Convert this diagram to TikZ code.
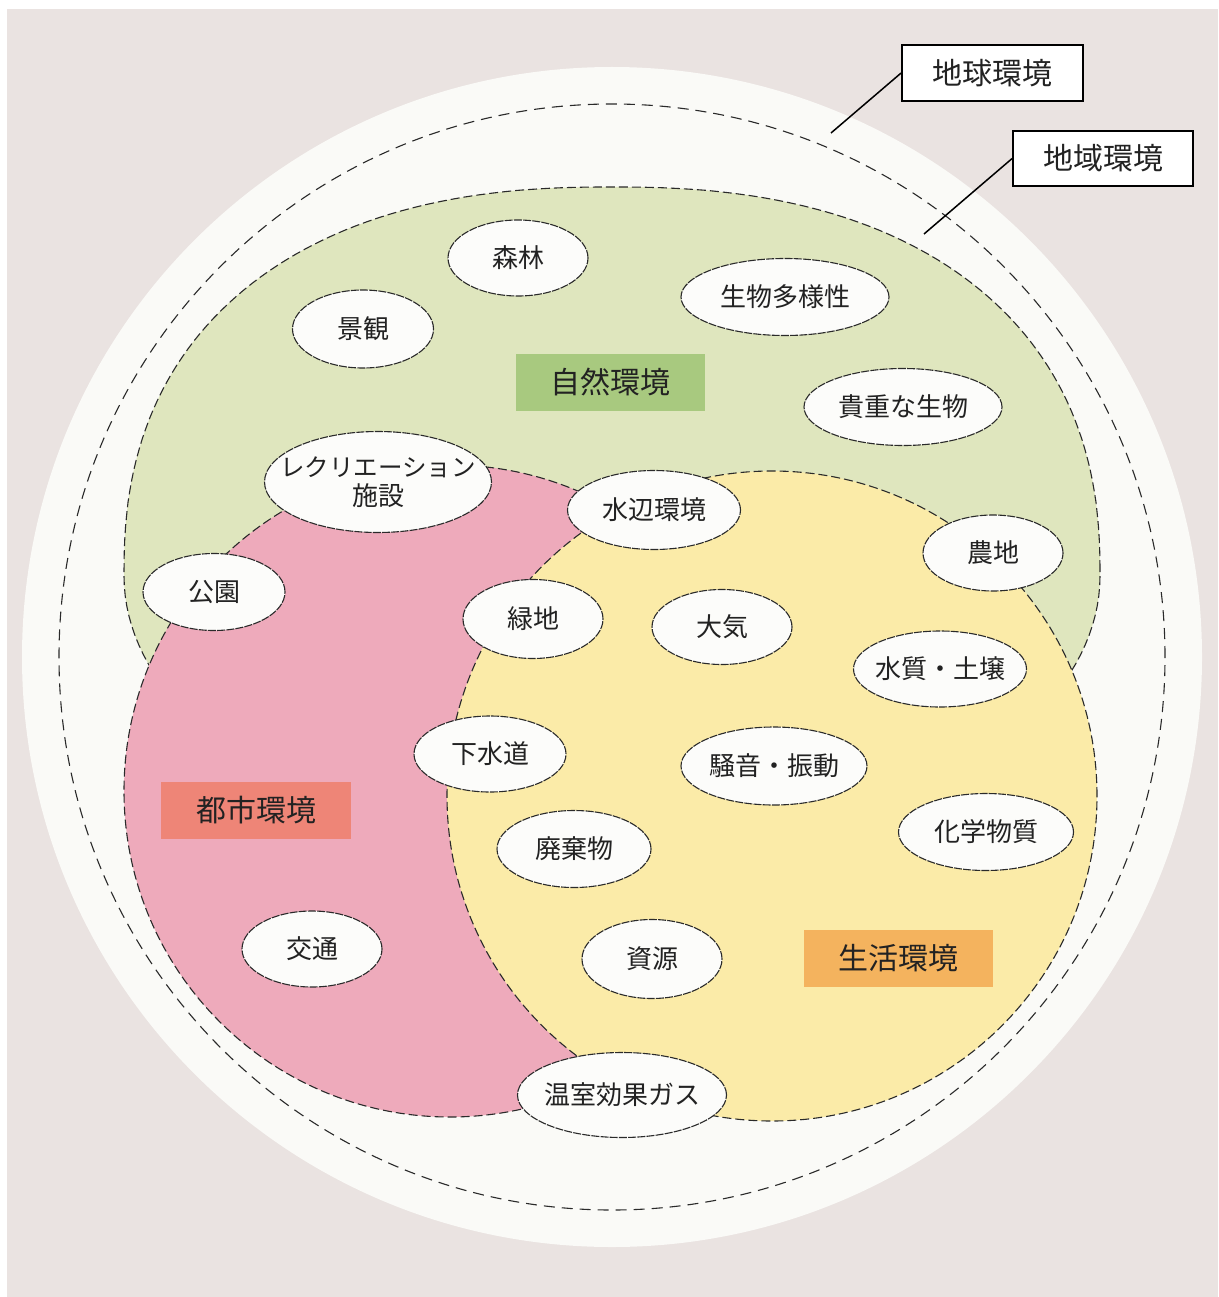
\documentclass[tikz,border=0pt]{standalone}
\usepackage{fontspec}
\setmainfont{Noto Sans CJK JP}
\definecolor{bgc}{HTML}{EAE3E1}
\definecolor{globec}{HTML}{FAFAF7}
\definecolor{natc}{HTML}{DFE6BE}
\definecolor{urbc}{HTML}{EEAABB}
\definecolor{lifec}{HTML}{FBEBA8}
\definecolor{natTag}{HTML}{A8C97F}
\definecolor{urbTag}{HTML}{EE8577}
\definecolor{lifeTag}{HTML}{F4B35E}
\definecolor{itemc}{HTML}{FCFCFA}
\definecolor{inkc}{HTML}{222222}
\definecolor{linec}{HTML}{2A2A2A}
\tikzset{
  zone/.style={draw=linec, line width=1.1pt, dash pattern=on 9pt off 4pt},
  ring/.style={draw=linec, line width=1.1pt, dash pattern=on 11pt off 7pt},
  itemline/.style={draw=linec, fill=itemc, line width=1.1pt, dash pattern=on 8pt off 1.2pt},
  itemtext/.style={inner sep=0pt, text=inkc, font=\fontsize{26}{29}\selectfont, align=center},
  tagbox/.style={inner sep=0pt, text=inkc, font=\fontsize{30}{34}\selectfont, minimum width=189pt, minimum height=57pt},
  callbox/.style={draw=black, line width=1.8pt, fill=white, inner sep=0pt, text=inkc, font=\fontsize{30}{34}\selectfont, minimum width=181pt, minimum height=56pt},
  leader/.style={draw=black, line width=1.5pt}
}
\newcommand{\blob}[5]{\draw[itemline] (#2) node[itemtext] (#1) {#5} ellipse [x radius=#3pt, y radius=#4pt];}
\begin{document}
\begin{tikzpicture}[x=1pt,y=-1pt]
\useasboundingbox (0,0) rectangle (1218,1297);
% background
\fill[white] (0,0) rectangle (1218,1297);
\fill[bgc] (7,9) rectangle (1218,1297);
% global environment
\fill[globec] (612,657) circle[radius=590pt];
\draw[ring] (612,657) circle[radius=553pt];
% natural environment
\draw[zone, fill=natc]
  plot[domain=0.5:179.5, samples=120, variable=\t]
    ({612+488*sign(cos(\t))*pow(abs(cos(\t)),0.85)}, {576-389*pow(abs(sin(\t)),0.85)})
  -- plot[domain=180:360, samples=90, variable=\t]
    ({612+488*cos(\t)}, {576-282*sin(\t)}) -- cycle;
% urban environment
\draw[zone, fill=urbc] (450,791) circle[radius=326pt];
% living environment
\draw[zone, fill=lifec] (772,796) circle[radius=325pt];
% tags
\node[tagbox, fill=natTag] (shizen) at (610.5,382) {自然環境};
\node[tagbox, fill=urbTag, minimum width=190pt] (toshi) at (256,810.5) {都市環境};
\node[tagbox, fill=lifeTag] (seikatsu) at (898.5,958.5) {生活環境};
% items
\blob{shinrin}{518,258}{70}{38}{森林}
\blob{keikan}{363,329}{70.5}{39}{景観}
\blob{tayosei}{785,297}{104}{38.5}{生物多様性}
\blob{kicho}{903,407}{99}{38.5}{貴重な生物}
\blob{rec}{378,482}{113.5}{50.5}{{\fontsize{24.5}{28}\selectfont レクリエーション}\\施設}
\blob{mizube}{654,510}{86.5}{39.5}{水辺環境}
\blob{nochi}{993,553}{70}{38}{農地}
\blob{koen}{214,592}{71}{38.5}{公園}
\blob{ryokuchi}{533,619}{70}{39.5}{緑地}
\blob{taiki}{722,627}{70}{37.5}{大気}
\blob{suishitsu}{940,669}{86.5}{38}{水質・土壌}
\blob{gesui}{490,754}{76}{38}{下水道}
\blob{soon}{774,766}{93}{39}{騒音・振動}
\blob{kagaku}{986,832}{87.5}{38.5}{化学物質}
\blob{haiki}{574,849}{77}{38.5}{廃棄物}
\blob{kotsu}{312,949}{70}{38}{交通}
\blob{shigen}{652,959}{70}{39.5}{資源}
\blob{onshitsu}{622,1095}{104.5}{42.5}{温室効果ガス}
% callouts
\node[callbox] (chikyu) at (992.5,73) {地球環境};
\node[callbox, minimum width=180pt, minimum height=55pt] (chiiki) at (1103,158.5) {地域環境};
\coordinate (gtip) at (831,133);
\coordinate (rtip) at (924,234);
\draw[leader] (gtip) -- (chikyu.west);
\draw[leader] (rtip) -- (chiiki.west);
\end{tikzpicture}
\end{document}
